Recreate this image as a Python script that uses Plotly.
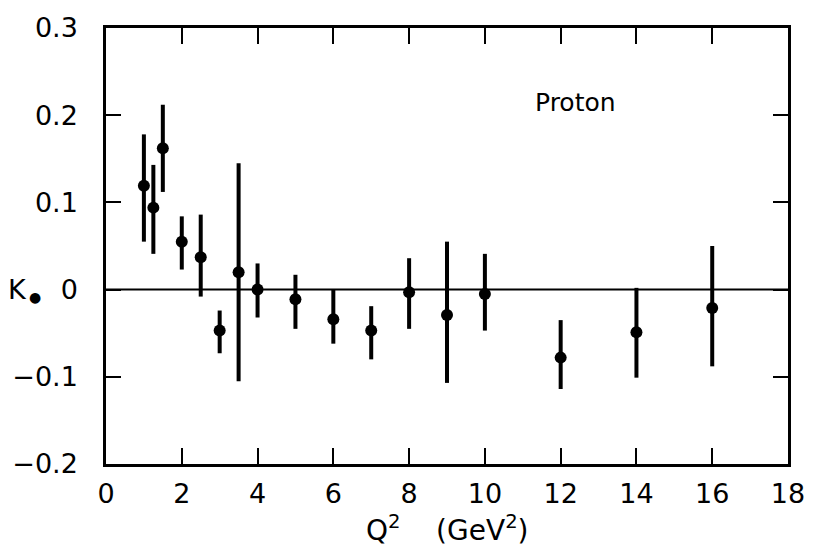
import plotly.graph_objects as go

# Data
q2 = [1.0, 1.25, 1.5, 2.0, 2.5, 3.0, 3.5, 4.0, 5.0, 6.0, 7.0, 8.0, 9.0, 10.0, 12.0, 14.0, 16.0]
k_val = [0.119, 0.094, 0.162, 0.055, 0.037, -0.047, 0.020, 0.000, -0.011, -0.034, -0.047,
         -0.003, -0.029, -0.005, -0.078, -0.049, -0.021]
k_hi = [0.178, 0.143, 0.212, 0.084, 0.086, -0.024, 0.145, 0.030, 0.017, 0.000, -0.019,
        0.036, 0.055, 0.041, -0.035, 0.002, 0.050]
k_lo = [0.055, 0.041, 0.112, 0.023, -0.008, -0.073, -0.105, -0.032, -0.045, -0.062, -0.080,
        -0.045, -0.107, -0.047, -0.114, -0.101, -0.088]

x_ticks = [0, 2, 4, 6, 8, 10, 12, 14, 16, 18]
y_ticks = [-0.2, -0.1, 0, 0.1, 0.2, 0.3]
y_tick_text = ["\u22120.2", "\u22120.1", "0", "0.1", "0.2", "0.3"]

err_plus = [h - v for h, v in zip(k_hi, k_val)]
err_minus = [v - l for v, l in zip(k_val, k_lo)]

FONT = "DejaVu Sans"

fig = go.Figure()
fig.add_trace(go.Scatter(
    x=q2, y=k_val, mode="markers",
    marker=dict(color="black", size=12),
    error_y=dict(type="data", symmetric=False, array=err_plus, arrayminus=err_minus,
                 color="black", thickness=4, width=0),
    showlegend=False,
))

# zero line
fig.add_shape(type="line", xref="paper", x0=0, x1=1, yref="y", y0=0, y1=0,
              line=dict(color="black", width=2))

fig.update_xaxes(
    range=[0, 18], tickvals=x_ticks, ticks="inside", ticklen=16, tickwidth=2,
    tickcolor="black", showline=True, linecolor="black", linewidth=2.5, mirror="ticks",
    showgrid=False, zeroline=False,
    tickfont=dict(family=FONT, size=27, color="black"), ticklabelstandoff=4,
)
fig.update_yaxes(
    range=[-0.2, 0.3], tickvals=y_ticks, ticktext=y_tick_text, ticks="inside", ticklen=15,
    tickwidth=2, tickcolor="black", showline=True, linecolor="black", linewidth=2.5,
    mirror="ticks", showgrid=False, zeroline=False,
    tickfont=dict(family=FONT, size=27, color="black"), ticklabelstandoff=20,
)

fig.add_annotation(text="Proton", x=12.4, y=0.215, xref="x", yref="y", showarrow=False,
                   font=dict(family=FONT, size=25, color="black"))
fig.add_annotation(text="K", xref="paper", yref="y", x=-0.147, y=0,
                   xanchor="left", yanchor="middle", showarrow=False,
                   font=dict(family=FONT, size=27, color="black"))
fig.add_annotation(text="\u25cf", xref="paper", yref="y", x=-0.104, y=-0.008,
                   xanchor="center", yanchor="middle", showarrow=False,
                   font=dict(family=FONT, size=14, color="black"))
fig.add_annotation(text="Q<sup>2</sup>    (GeV<sup>2</sup>)", xref="x", yref="paper",
                   x=9.0, y=-0.195, xanchor="center", yanchor="bottom", showarrow=False,
                   font=dict(family=FONT, size=28, color="black"))

fig.update_layout(
    width=817, height=546,
    margin=dict(l=106, r=22, t=23, b=82),
    plot_bgcolor="white", paper_bgcolor="white",
)

fig.write_html("out.html")
